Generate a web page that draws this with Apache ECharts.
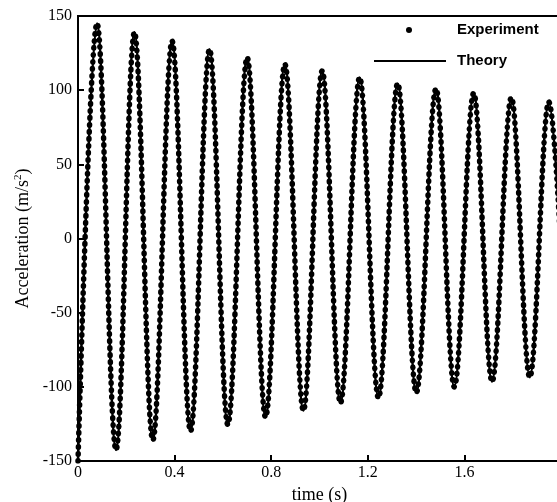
<!DOCTYPE html>
<html>
<head>
<meta charset="utf-8">
<script src="https://cdn.jsdelivr.net/npm/echarts@6/dist/echarts.min.js"></script>
<style>
  html, body { margin: 0; padding: 0; background: #fff; }
  #main { width: 557px; height: 502px; }
</style>
</head>
<body>
<div id="main"></div>
<script>
// extrema of the oscillation (trough at t=0, then peak, trough, ...)
var timeS = [0, 0.0787, 0.1575, 0.2337, 0.3096, 0.3896, 0.4658, 0.5446, 0.6204,
    0.7004, 0.7766, 0.8566, 0.9333, 1.0112, 1.0866, 1.1662, 1.2441, 1.3237,
    1.4007, 1.4824, 1.5582, 1.6386, 1.7144, 1.7944, 1.8707, 1.9494, 2.025];
var theoryAccel = [-150, 145, -142.5, 139, -136, 133, -130, 127.5, -125.5, 122,
    -120.5, 117.5, -116, 113, -111, 108.5, -107.5, 104.5, -104, 101, -100, 98,
    -96.5, 95, -93.5, 92, -91];
var experimentAccel = [-150, 145, -142.5, 139, -136, 133, -130, 127.5, -125.5, 122,
    -120.5, 117.5, -116, 113, -111, 108.5, -107.5, 104.5, -104, 101, -100, 98,
    -96.5, 95, -93.5, 92, -91];

var xTicks = { min: 0, max: 2, interval: 0.4 };
var yTicks = { min: -150, max: 150, interval: 50 };

function pairs(xs, ys) {
    var out = [];
    for (var i = 0; i < xs.length; i++) {
        out.push([xs[i], ys[i]]);
    }
    return out;
}

var serif = '"Liberation Serif", "Times New Roman", serif';
var sans = '"Liberation Sans", Arial, sans-serif';

function legendText(gap) {
    return {
        fontFamily: sans,
        fontWeight: 'bold',
        fontSize: 15,
        lineHeight: 18,
        color: '#000',
        padding: [0, 0, 0, gap]
    };
}

var myChart = echarts.init(document.getElementById('main'));

var option = {
    animation: false,
    backgroundColor: '#fff',
    grid: {
        left: 78,
        top: 16,
        right: -4,
        bottom: 41,
        show: true,
        borderColor: '#000',
        borderWidth: 2,
        containLabel: false,
        outerBoundsMode: 'none'
    },
    legend: [
        {
            left: 406,
            top: 21,
            padding: 0,
            itemWidth: 6,
            itemHeight: 6,
            textStyle: legendText(40),
            data: [{ name: 'Experiment', icon: 'circle' }]
        },
        {
            left: 374,
            top: 52,
            padding: 0,
            itemWidth: 72,
            itemHeight: 2,
            textStyle: legendText(6),
            data: [{ name: 'Theory', icon: 'rect' }]
        }
    ],
    xAxis: {
        type: 'value',
        min: xTicks.min,
        max: xTicks.max,
        interval: xTicks.interval,
        name: 'time (s)',
        nameLocation: 'middle',
        nameGap: 25,
        nameTextStyle: { fontFamily: serif, fontSize: 18, color: '#000' },
        axisLine: { onZero: false, lineStyle: { color: '#000', width: 2 } },
        axisTick: { inside: true, length: 6, lineStyle: { color: '#000', width: 2 } },
        axisLabel: { fontFamily: serif, fontSize: 16, color: '#000', margin: 4 },
        splitLine: { show: false }
    },
    yAxis: {
        type: 'value',
        min: yTicks.min,
        max: yTicks.max,
        interval: yTicks.interval,
        name: 'Acceleration (m/s{sup|2})',
        nameLocation: 'middle',
        nameGap: 36,
        nameTextStyle: {
            fontFamily: serif, fontSize: 18, color: '#000',
            rich: { sup: { fontFamily: serif, fontSize: 11, color: '#000', padding: [0, 0, 9, 0] } }
        },
        axisLine: { onZero: false, lineStyle: { color: '#000', width: 2 } },
        axisTick: { inside: true, length: 6, lineStyle: { color: '#000', width: 2 } },
        axisLabel: { fontFamily: serif, fontSize: 16, color: '#000', margin: 6 },
        splitLine: { show: false }
    },
    series: [
        {
            name: 'Experiment',
            type: 'line',
            data: pairs(timeS, experimentAccel),
            symbol: 'none',
            smooth: 0.36,
            smoothMonotone: 'x',
            color: '#000',
            lineStyle: { color: '#000', width: 5.5, type: [0.5, 6.5], cap: 'round' },
            z: 3
        },
        {
            name: 'Theory',
            type: 'line',
            data: pairs(timeS, theoryAccel),
            symbol: 'none',
            smooth: 0.36,
            smoothMonotone: 'x',
            color: '#000',
            lineStyle: { color: '#000', width: 2.5 },
            z: 2
        }
    ]
};

myChart.setOption(option);
</script>
</body>
</html>
